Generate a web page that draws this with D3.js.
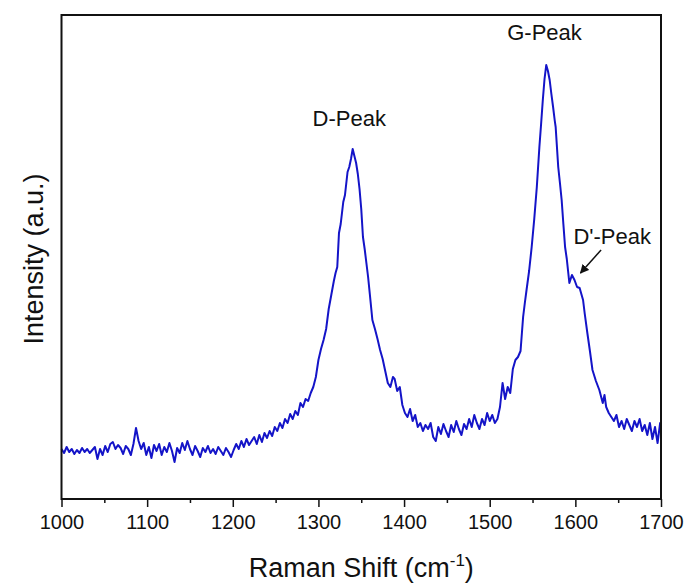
<!DOCTYPE html>
<html>
<head>
<meta charset="utf-8">
<script src="https://cdn.jsdelivr.net/npm/d3@7"></script>
<style>
  body { margin: 0; background: white; }
  text { font-family: "Liberation Sans", Arial, sans-serif; fill: #111; }
</style>
</head>
<body>
<svg id="chart"></svg>
<script>
var width = 686;
var height = 584;
var plot_l = 61.5, plot_r = 661, plot_t = 15, plot_b = 499;
var blue = "#1414c8";

// Raman shift (cm-1) and intensity (a.u.)
var shift = [
  1000,1003,1006,1009,1012,1015,1018,1021,1024,1027,1030,1033,1036,1039,1042,1045,1048,1051,1054,1057,
  1060,1063,1066,1069,1072,1075,1078,1081,1084,1087,1090,1093,1096,1099,1102,1105,1108,1111,1114,1117,
  1120,1123,1126,1129,1132,1135,1138,1141,1144,1147,1150,1153,1156,1159,1162,1165,1168,1171,1174,1177,
  1180,1183,1186,1189,1192,1195,1198,1201,1204,1207,1210,1213,1216,1219,1222,1225,1228,1231,1234,1237,
  1240,1243,1246,1249,1252,1255,1258,1261,1264,1267,1270,1273,1276,1279,1282,1285,1288,1291,1294,1297,
  1300,1303,1306,1309,1312,1315,1318,1320,1322,1324,1326,1329,1331,1334,1336,1338,1340,1342,1344,1346,
  1348,1350,1352,1354,1356,1358,1360,1363,1366,1369,1372,1375,1378,1381,1384,1387,1389,1392,1395,1398,
  1401,1404,1407,1410,1413,1416,1419,1422,1425,1428,1431,1434,1437,1440,1443,1446,1449,1452,1455,1458,
  1461,1464,1467,1470,1473,1476,1479,1482,1485,1488,1491,1494,1497,1500,1503,1506,1509,1512,1515,1518,
  1521,1524,1527,1530,1533,1536,1539,1541,1543,1546,1549,1552,1555,1558,1560,1562,1564,1566,1568,1570,
  1572,1574,1576,1577,1580,1582,1584,1586,1588,1590,1593,1596,1599,1602,1605,1607,1609,1611,1614,1617,
  1620,1624,1628,1632,1634,1636,1639,1642,1645,1648,1651,1654,1657,1660,1663,1666,1669,1672,1675,1678,
  1681,1684,1687,1690,1693,1696,1699,1700
];
var intensity = [
  50,46,52,47,50,45,49,46,51,47,50,46,49,52,40,50,44,53,47,55,
  57,50,54,51,45,53,50,44,55,71,58,50,56,44,52,41,54,48,55,44,
  52,47,56,48,37,51,46,56,49,58,50,44,53,48,42,51,47,53,46,50,
  45,52,48,44,51,47,42,49,55,50,58,52,60,54,58,62,55,64,57,66,
  61,68,63,72,68,76,71,80,76,85,80,88,84,96,92,100,98,106,112,122,
  139,150,159,170,190,204,218,226,232,266,275,297,304,327,332,340,350,343,336,325,
  310,290,262,250,236,222,205,179,170,160,149,140,128,116,112,122,120,108,112,94,
  86,82,90,78,84,72,76,68,74,70,76,62,58,72,65,75,68,62,74,67,
  78,70,64,75,70,80,72,84,76,70,80,74,86,78,84,76,80,92,116,100,
  112,106,130,139,142,148,182,196,209,228,252,280,312,352,375,399,420,434,428,419,
  405,392,378,372,332,316,299,275,252,240,216,224,219,212,211,205,199,185,166,148,
  129,118,109,96,104,92,86,82,78,84,72,78,70,80,74,68,78,72,80,68,
  74,64,76,60,72,56,76,70
];

var xTicks = [1000,1100,1200,1300,1400,1500,1600,1700];
var xMinor = [1050,1150,1250,1350,1450,1550,1650];

// peak labels: [text, shift, intensity]
var labels = [["D-Peak", 1336, 373], ["G-Peak", 1564, 459], ["D'-Peak", 1643, 255]];
var arrowFrom = [1630, 249];
var arrowTo = [1606, 226];

var svg = d3.select("#chart").attr("width", width).attr("height", height);

var x = d3.scaleLinear().domain([1000, 1700]).range([plot_l, plot_r]);
var y = d3.scaleLinear().domain([0, 484]).range([plot_b, plot_t]);

svg.append("defs").append("marker")
  .attr("id", "arrow").attr("viewBox", "0 0 10 10")
  .attr("refX", 9).attr("refY", 5)
  .attr("markerWidth", 9).attr("markerHeight", 9)
  .attr("markerUnits", "userSpaceOnUse")
  .attr("orient", "auto")
  .append("path").attr("d", "M0,0 L10,5 L0,10 z").attr("fill", "#111");

var points = shift.map(function(s, i){ return [s, intensity[i]]; });

svg.append("path")
  .datum(points)
  .attr("fill", "none")
  .attr("stroke", blue)
  .attr("stroke-width", 2)
  .attr("stroke-linejoin", "round")
  .attr("d", d3.line().x(function(d){ return x(d[0]); }).y(function(d){ return y(d[1]); }));

// minor ticks first, then the labelled axis
svg.append("g")
  .attr("transform", "translate(0," + plot_b + ")")
  .call(d3.axisBottom(x).tickValues(xMinor).tickSize(4).tickFormat(""))
  .call(function(g){ g.select(".domain").remove(); })
  .selectAll("line").attr("stroke", "#111").attr("stroke-width", 1.5);

var xAxis = svg.append("g")
  .attr("transform", "translate(0," + plot_b + ")")
  .call(d3.axisBottom(x).tickValues(xTicks).tickSize(8).tickSizeOuter(0).tickFormat(d3.format("d")));
xAxis.attr("font-size", 20).attr("font-family", null);
xAxis.select(".domain").remove();
xAxis.selectAll("line").attr("stroke", "#111").attr("stroke-width", 1.5);
xAxis.selectAll("text")
  .attr("fill", "#111").attr("dy", null).attr("y", 30);

svg.append("rect")
  .attr("x", plot_l).attr("y", plot_t)
  .attr("width", plot_r - plot_l).attr("height", plot_b - plot_t)
  .attr("fill", "none").attr("stroke", "#111").attr("stroke-width", 2);

var title = svg.append("text")
  .attr("x", (plot_l + plot_r) / 2).attr("y", 577)
  .attr("text-anchor", "middle").attr("font-size", 27);
title.append("tspan").text("Raman Shift (cm");
title.append("tspan").text("-1").attr("font-size", 17).attr("dy", -11);
title.append("tspan").text(")").attr("dy", 11);

svg.append("text")
  .attr("transform", "translate(43," + ((plot_t + plot_b) / 2 + 2) + ") rotate(-90)")
  .attr("text-anchor", "middle").attr("font-size", 27)
  .text("Intensity (a.u.)");

svg.selectAll(".peak")
  .data(labels)
  .enter().append("text")
  .attr("class", "peak")
  .attr("x", function(d){ return x(d[1]); })
  .attr("y", function(d){ return y(d[2]); })
  .attr("text-anchor", "middle").attr("font-size", 22)
  .text(function(d){ return d[0]; });

svg.append("line")
  .attr("x1", x(arrowFrom[0])).attr("y1", y(arrowFrom[1]))
  .attr("x2", x(arrowTo[0])).attr("y2", y(arrowTo[1]))
  .attr("stroke", "#111").attr("stroke-width", 1.5)
  .attr("marker-end", "url(#arrow)");
</script>
</body>
</html>
